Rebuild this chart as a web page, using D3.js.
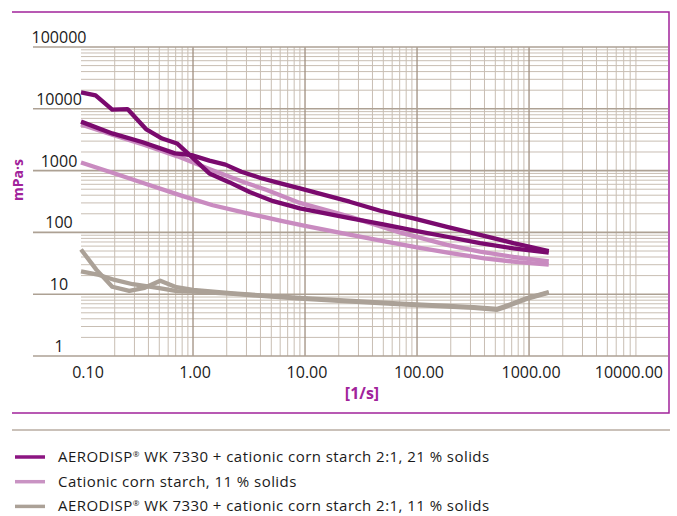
<!DOCTYPE html>
<html>
<head>
<meta charset="utf-8">
<script src="https://cdn.jsdelivr.net/npm/d3@7"></script>
<style>
  body { margin: 0; background: #fff; }
  text { font-family: "Open Sans", "Noto Sans", sans-serif; }
</style>
</head>
<body>
<div id="chart"></div>
<script>
// curves: [shear rate 1/s, viscosity mPa·s]
var wk21Down = [[0.1,18500],[0.135,16500],[0.19,9700],[0.26,9900],[0.38,4700],[0.53,3300],[0.72,2750],[0.93,1800],[1.4,900],[2.1,650],[3.2,450],[5.2,320],[9,245],[25,170],[50,135],[100,105],[185,85],[365,67],[725,55],[1500,47]];
var wk21Up = [[0.1,6200],[0.19,4000],[0.35,2900],[0.69,1900],[0.97,1780],[1.4,1450],[1.95,1250],[2.7,960],[4,760],[5.7,640],[9,515],[25,314],[47,224],[93,169],[185,123],[365,91],[725,67],[1500,50]];
var starchUp = [[0.1,5600],[0.19,3800],[0.37,2600],[0.73,1700],[1.45,1030],[2.9,640],[4.5,490],[9,300],[25,180],[70,100],[185,63],[365,49],[725,40],[1500,34]];
var starchDown = [[0.1,1350],[0.2,900],[0.4,590],[0.8,390],[1.5,275],[3,205],[6,155],[10,128],[25,92],[50,72],[100,57],[200,46],[400,38],[800,33],[1500,30]];
var wk11Down = [[0.1,53],[0.137,25],[0.19,13.2],[0.27,11.3],[0.37,12.7],[0.51,16.5],[0.71,13],[1,11.7],[2.3,10.3],[9,8.7],[20,8],[80,7],[320,6.2],[520,5.8],[600,6.3],[950,8.6],[1500,10.8]];
var wk11Up = [[0.1,23.5],[0.145,20.5],[0.2,17],[0.29,14.5],[0.5,12.5],[0.72,11.2],[1,11],[2.3,10.1],[9,8.5],[20,7.8],[80,6.8],[320,6],[520,5.6],[600,6.1],[950,8.4],[1500,10.6]];

var xTicks = [0.1, 1, 10, 100, 1000, 10000];
var yTicks = [1, 10, 100, 1000, 10000, 100000];
var legendLabels = [
  "AERODISP\u00ae WK 7330 + cationic corn starch 2:1, 21 % solids",
  "Cationic corn starch, 11 % solids",
  "AERODISP\u00ae WK 7330 + cationic corn starch 2:1, 11 % solids"
];

var svgWidth = 677;
var svgHeight = 516;

var purple = "#7a0a6e";
var pink = "#c98bc0";
var grey = "#aba197";
var frame = "#a1239b";

var svg = d3.select("#chart")
  .append("svg")
  .attr("width", svgWidth)
  .attr("height", svgHeight);

var xScale = d3.scaleLog().domain([0.1, 17400]).range([81, 668]);
var yScale = d3.scaleLog().domain([1, 100000]).range([356, 47]);

// grid
var grid = svg.append("g");
var minorY = [];
yTicks.slice(0, -1).forEach(function(d) {
  for (var k = 2; k < 10; k++) minorY.push(k * d);
});
var minorX = [];
[0.1, 1, 10, 100, 1000].forEach(function(d) {
  for (var k = 2; k < 10; k++) minorX.push(k * d);
});

grid.selectAll(".minor-y")
  .data(minorY)
  .enter()
  .append("line")
  .attr("x1", xScale.range()[0])
  .attr("x2", xScale.range()[1])
  .attr("y1", d => yScale(d))
  .attr("y2", d => yScale(d))
  .attr("stroke", "#c8beb3")
  .attr("stroke-width", 1);

grid.selectAll(".minor-x")
  .data(minorX)
  .enter()
  .append("line")
  .attr("x1", d => xScale(d))
  .attr("x2", d => xScale(d))
  .attr("y1", yScale(100000))
  .attr("y2", yScale(1))
  .attr("stroke", "#c8beb3")
  .attr("stroke-width", 1);

grid.selectAll(".major-x")
  .data(xTicks.slice(1, -1))
  .enter()
  .append("line")
  .attr("x1", d => xScale(d))
  .attr("x2", d => xScale(d))
  .attr("y1", yScale(100000))
  .attr("y2", yScale(1))
  .attr("stroke", "#a08f80")
  .attr("stroke-width", 1.3);

grid.selectAll(".major-y")
  .data(yTicks)
  .enter()
  .append("line")
  .attr("x1", 33)
  .attr("x2", xScale.range()[1])
  .attr("y1", d => yScale(d))
  .attr("y2", d => yScale(d))
  .attr("stroke", "#ada194")
  .attr("stroke-width", 1.6);

// tick labels
svg.selectAll(".ylab")
  .data(yTicks)
  .enter()
  .append("text")
  .attr("x", 59)
  .attr("y", d => yScale(d) - 4)
  .attr("text-anchor", "middle")
  .attr("font-size", "16px")
  .attr("fill", "#1a1a1a")
  .text(d => d3.format("d")(d));

svg.selectAll(".xlab")
  .data(xTicks)
  .enter()
  .append("text")
  .attr("x", function(d, i) {
    if (i === 0) return xScale(d) + 7;
    if (i === xTicks.length - 1) return xScale.range()[1] - 5;
    return xScale(d) + 2;
  })
  .attr("y", 378)
  .attr("text-anchor", (d, i) => i === xTicks.length - 1 ? "end" : "middle")
  .attr("font-size", "16px")
  .attr("fill", "#1a1a1a")
  .text(d => d3.format(".2f")(d));

// axis titles
svg.append("text")
  .attr("x", 362)
  .attr("y", 399)
  .attr("text-anchor", "middle")
  .attr("font-size", "16px")
  .attr("font-weight", "bold")
  .attr("fill", frame)
  .text("[1/s]");

svg.append("text")
  .attr("transform", "translate(23,180) rotate(-90)")
  .attr("text-anchor", "middle")
  .attr("font-size", "14px")
  .attr("font-weight", "bold")
  .attr("fill", frame)
  .text("mPa\u00b7s");

// curves
var line = d3.line()
  .x(d => xScale(d[0]))
  .y(d => yScale(d[1]));

var curves = [
  { data: wk11Down, color: grey },
  { data: wk11Up, color: grey },
  { data: starchUp, color: pink },
  { data: starchDown, color: pink },
  { data: wk21Down, color: purple },
  { data: wk21Up, color: purple }
];

svg.selectAll(".curve")
  .data(curves)
  .enter()
  .append("path")
  .attr("d", d => line(d.data))
  .attr("fill", "none")
  .attr("stroke", d => d.color)
  .attr("stroke-width", 4.3)
  .attr("stroke-linejoin", "round");

// frame
svg.append("path")
  .attr("d", "M12,12H669V413H12")
  .attr("fill", "none")
  .attr("stroke", frame)
  .attr("stroke-width", 1.5);

// legend
svg.append("line")
  .attr("x1", 12).attr("x2", 670)
  .attr("y1", 430).attr("y2", 430)
  .attr("stroke", "#b8ada2")
  .attr("stroke-width", 1.5);

var legendColors = ["#8c1582", "#c993c3", grey];

var legend = svg.selectAll(".legend")
  .data(legendLabels)
  .enter()
  .append("g")
  .attr("transform", (d, i) => `translate(0, ${457 + i * 24.7})`);

legend.append("line")
  .attr("x1", 15).attr("x2", 45)
  .attr("y1", 0).attr("y2", 0)
  .attr("stroke", (d, i) => legendColors[i])
  .attr("stroke-width", 3.5);

legend.append("text")
  .attr("x", 58)
  .attr("y", 5)
  .attr("font-size", "15px")
  .attr("letter-spacing", "0.45px")
  .attr("fill", "#1a1a1a")
  .each(function(d) {
    var parts = d.split("\u00ae");
    var t = d3.select(this);
    t.append("tspan").text(parts[0]);
    if (parts.length > 1) {
      t.append("tspan").attr("font-size", "8px").attr("dy", -5).text("\u00ae");
      t.append("tspan").attr("dy", 5).text(parts[1]);
    }
  });
</script>
</body>
</html>
